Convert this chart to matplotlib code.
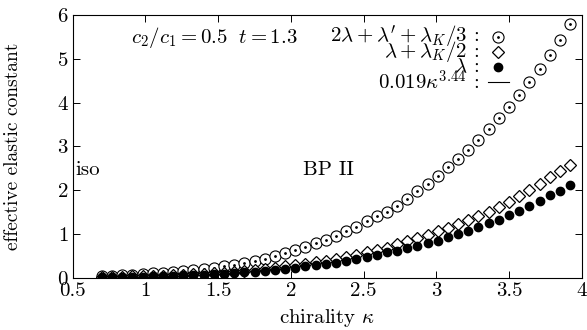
import matplotlib
matplotlib.use("Agg")
import matplotlib.pyplot as plt

plt.rcParams['font.family'] = 'serif'
plt.rcParams['font.serif'] = ['cmr10', 'DejaVu Serif']
plt.rcParams['mathtext.fontset'] = 'cm'
plt.rcParams['axes.formatter.use_mathtext'] = True

# chirality kappa
kappa = [0.70, 0.77, 0.84, 0.91, 0.98, 1.05, 1.12, 1.19, 1.26, 1.33,
         1.40, 1.47, 1.54, 1.61, 1.68, 1.75, 1.82, 1.89, 1.96, 2.03,
         2.10, 2.17, 2.24, 2.31, 2.38, 2.45, 2.52, 2.59, 2.66, 2.73,
         2.80, 2.87, 2.94, 3.01, 3.08, 3.15, 3.22, 3.29, 3.36, 3.43,
         3.50, 3.57, 3.64, 3.71, 3.78, 3.85, 3.92]

# 2 lambda + lambda' + lambda_K/3
k_circ = [0.04, 0.05, 0.06, 0.07, 0.08, 0.10, 0.11, 0.13, 0.15, 0.17,
          0.20, 0.23, 0.26, 0.30, 0.34, 0.39, 0.44, 0.50, 0.57, 0.64,
          0.71, 0.79, 0.87, 0.96, 1.06, 1.17, 1.29, 1.41, 1.51, 1.65,
          1.81, 1.98, 2.15, 2.33, 2.52, 2.71, 2.92, 3.15, 3.39, 3.64,
          3.90, 4.18, 4.47, 4.76, 5.09, 5.42, 5.79]

# lambda + lambda_K/2
k_diam = [0.02, 0.025, 0.03, 0.035, 0.04, 0.045, 0.05, 0.06, 0.07, 0.08,
          0.09, 0.105, 0.12, 0.135, 0.155, 0.18, 0.20, 0.23, 0.26, 0.29,
          0.32, 0.355, 0.39, 0.43, 0.48, 0.53, 0.58, 0.64, 0.69, 0.77,
          0.84, 0.91, 0.98, 1.06, 1.13, 1.23, 1.32, 1.42, 1.51, 1.61,
          1.74, 1.86, 2.01, 2.14, 2.29, 2.43, 2.58]

# lambda
k_dot = [0.016, 0.02, 0.023, 0.027, 0.03, 0.035, 0.04, 0.05, 0.055, 0.065,
         0.075, 0.085, 0.095, 0.11, 0.125, 0.145, 0.16, 0.185, 0.21, 0.235,
         0.26, 0.29, 0.32, 0.35, 0.39, 0.43, 0.47, 0.52, 0.58, 0.62,
         0.67, 0.73, 0.79, 0.85, 0.93, 1.00, 1.08, 1.17, 1.25, 1.32,
         1.44, 1.53, 1.64, 1.76, 1.88, 1.99, 2.12]

key_labels = [r"$2\lambda+\lambda'+\lambda_K/3$ :", r'$\lambda+\lambda_K/2$ :',
              r'$\lambda$ :', r'$0.019\kappa^{3.44}$ :']

fs = 15

fig = plt.figure(figsize=(5.87, 3.30), dpi=100)
ax = fig.add_axes([0.124, 0.158, 0.867, 0.797])

circ_style = dict(ls='none', marker='o', ms=8, mfc='white', mec='black', mew=0.8)
cdot_style = dict(ls='none', marker='.', ms=2, color='black')
diam_style = dict(ls='none', marker='D', ms=6.5, mfc='white', mec='black', mew=0.9)
dot_style = dict(ls='none', marker='o', ms=6, color='black')

ax.plot(kappa, k_circ, **circ_style)
ax.plot(kappa, k_circ, **cdot_style)
ax.plot(kappa, k_diam, **diam_style)
ax.plot(kappa, k_dot, **dot_style)

ax.set_xlim(0.5, 4)
ax.set_ylim(0, 6)
ax.set_xticks([0.5, 1, 1.5, 2, 2.5, 3, 3.5, 4])
ax.set_xticklabels(['0.5', '1', '1.5', '2', '2.5', '3', '3.5', '4'])
ax.set_yticks(range(7))
ax.tick_params(direction='in', top=True, right=True, length=5, width=0.7,
               labelsize=fs, pad=3)
for s in ax.spines.values():
    s.set_linewidth(0.8)

ax.set_xlabel(r'chirality $\kappa$', fontsize=fs)
ax.set_ylabel('effective elastic constant', fontsize=14)
ax.xaxis.set_label_coords(0.5, -0.112)
ax.yaxis.set_label_coords(-0.1, 0.5)

ax.text(0.115, 0.915, r'$c_2/c_1 = 0.5\ \ t = 1.3$', transform=ax.transAxes,
        fontsize=fs, va='center', ha='left')
ax.text(0.52, 2.45, 'iso', fontsize=fs, va='center', ha='left')
ax.text(2.08, 2.45, 'BP II', fontsize=fs, va='center', ha='left')

# hand-made key: labels right aligned, symbols to their right
row_y = [0.916, 0.859, 0.802, 0.745]
lab_x = 0.798
sym_x = 0.836
for yy, lab in zip(row_y, key_labels):
    ax.text(lab_x, yy, lab, transform=ax.transAxes, fontsize=fs,
            va='center', ha='right')
ax.plot([sym_x], [row_y[0]], transform=ax.transAxes, clip_on=False, **circ_style)
ax.plot([sym_x], [row_y[0]], transform=ax.transAxes, clip_on=False, **cdot_style)
ax.plot([sym_x], [row_y[1]], transform=ax.transAxes, clip_on=False, **diam_style)
ax.plot([sym_x], [row_y[2]], transform=ax.transAxes, clip_on=False, **dot_style)
ax.plot([sym_x - 0.021, sym_x + 0.022], [row_y[3], row_y[3]],
        transform=ax.transAxes, color='black', lw=0.8)

fig.savefig('out.png', dpi=100)
